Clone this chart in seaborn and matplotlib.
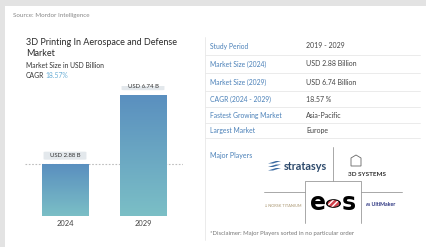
import numpy as np
import matplotlib
matplotlib.use("Agg")
import matplotlib.pyplot as plt
import seaborn as sns
from matplotlib.patches import Rectangle, FancyBboxPatch, Circle, Polygon

# ---------------- data ----------------
years = ["2024", "2029"]
values = [2.88, 6.74]
bar_labels = ["USD 2.88 B", "USD 6.74 B"]
cagr_text = "18.57%"
table_labels = ["Study Period", "Market Size (2024)", "Market Size (2029)",
                "CAGR (2024 - 2029)", "Fastest Growing Market", "Largest Market"]
table_values = ["2019 - 2029", "USD 2.88 Billion", "USD 6.74 Billion",
                "18.57 %", "Asia-Pacific", "Europe"]

sns.set_theme(style="white")
plt.rcParams['font.family'] = ['Lato', 'DejaVu Sans']

W, H = 426, 247
fig = plt.figure(figsize=(W / 100, H / 100), dpi=100, facecolor="#e3e3e3")

def fx(x):
    return x / W

def fy(y):
    return 1 - y / H

# white card
fig.patches.append(Rectangle((fx(5), 0), 1 - fx(5), fy(6), transform=fig.transFigure,
                             facecolor="white", edgecolor="none", zorder=-5))

BLUE = "#4a80b8"
DARK = "#2b2b2b"

def t(x, y, s, **kw):
    kw.setdefault("va", "center")
    kw.setdefault("ha", "left")
    fig.text(fx(x), fy(y), s, **kw)

t(13, 16, "Source: Mordor Intelligence", fontsize=4.5, color="#888888")
t(26, 42, "3D Printing In Aerospace and Defense", fontsize=6.5, color=DARK)
t(26, 53, "Market", fontsize=6.5, color=DARK)
t(26, 65, "Market Size in USD Billion", fontsize=4.9, color="#333333")
t(26, 75, "CAGR", fontsize=4.9, color="#333333")
t(45.5, 75, cagr_text, fontsize=4.9, color="#6aaed6")

# ---------------- bar chart ----------------
ax_l, ax_r, ax_b, ax_t = 25, 183, 216, 86
ax = fig.add_axes([fx(ax_l), fy(ax_b), fx(ax_r) - fx(ax_l), fy(ax_t) - fy(ax_b)])
ax.set_facecolor("none")
sns.barplot(x=years, y=values, ax=ax, width=0.59, color="#6aa6c4", saturation=1)
for s in ax.spines.values():
    s.set_visible(False)
ax.set_yticks([])
ax.set_ylabel("")
ax.tick_params(axis="x", length=0, pad=3.2, labelsize=5.4, labelcolor="#444444")

ax.axhline(values[0], color="#bdbdbd", lw=0.8, ls=(0, (1.5, 1.5)), zorder=0.5)

top_c = np.array([0x5a, 0x8f, 0xbf]) / 255
bot_c = np.array([0x7b, 0xbf, 0xc6]) / 255
grad = np.linspace(0, 1, 256)[:, None, None]
img = top_c * (1 - grad) + bot_c * grad

for p, lab in zip(ax.patches, bar_labels):
    x0, w, h = p.get_x(), p.get_width(), p.get_height()
    p.set_facecolor("none")
    p.set_edgecolor("none")
    im = ax.imshow(img, extent=(x0, x0 + w, 0, h), aspect="auto", origin="upper", zorder=2)
    im.set_clip_path(p)
    gap = 4.5 / 18
    bh = 8 / 18
    box = FancyBboxPatch((x0 + 0.02, h + gap), w - 0.04, bh,
                         boxstyle="round,pad=0,rounding_size=0.03",
                         facecolor="#e3e8ec", edgecolor="none", zorder=3)
    ax.add_patch(box)
    ax.text(x0 + w / 2, h + gap + bh / 2, lab, ha="center", va="center",
            fontsize=4.3, color="#333333", zorder=4)
ax.set_xlim(-0.513, 1.513)
ax.set_ylim(0, 130 / 18)

# ---------------- table ----------------
line_c = "#e8e8e8"
fig.add_artist(plt.Line2D([fx(205), fx(205)], [fy(37), fy(240)], transform=fig.transFigure,
                          color=line_c, lw=0.6))
row_y = [46, 64, 82, 99, 115, 130]
for yy in [55, 73, 91, 107, 123, 138]:
    fig.add_artist(plt.Line2D([fx(205), fx(420)], [fy(yy), fy(yy)], transform=fig.transFigure,
                              color=line_c, lw=0.6))
for yy, lab, val in zip(row_y, table_labels, table_values):
    t(210, yy, lab, fontsize=4.9, color=BLUE)
    t(306, yy, val, fontsize=5.0, color="#444444")

t(210, 155, "Major Players", fontsize=5.0, color=BLUE)

# logo grid
gl = "#9a9a9a"
def fl(xs, ys, c=gl, lw=0.6):
    fig.add_artist(plt.Line2D([fx(v) for v in xs], [fy(v) for v in ys],
                              transform=fig.transFigure, color=c, lw=lw))
fl([333, 333], [147, 181])
fl([264, 305], [192, 192])
fl([361, 402], [192, 192])
fl([305, 305, 361, 361], [223, 181, 181, 223])

# stratasys
for i in range(3):
    y0 = 161 + i * 3.5
    fig.patches.append(Polygon([(fx(268), fy(y0 + 2.5)), (fx(276), fy(y0)), (fx(281), fy(y0)),
                                (fx(273), fy(y0 + 2.5))], closed=True, transform=fig.transFigure,
                               facecolor="#3b6aa0", edgecolor="none"))
t(284, 166, "stratasys", fontsize=7.8, color="#2d4a6c", weight="bold")

# 3D systems
fig.patches.append(Polygon([(fx(351), fy(166)), (fx(351), fy(158)), (fx(356), fy(155)),
                            (fx(361), fy(158)), (fx(361), fy(166))], closed=True,
                           transform=fig.transFigure, facecolor="none", edgecolor="#666666", lw=0.6))
t(367, 174, "3D SYSTEMS", fontsize=4.6, color="#333333", weight="bold", ha="center")

# eos
t(318, 203, "e", fontsize=17, color="black", weight="heavy", ha="center", family=["DejaVu Sans"])
t(348.5, 203, "s", fontsize=17, color="black", weight="heavy", ha="center", family=["DejaVu Sans"])
fig.patches.append(Circle((fx(333.5), fy(203.5)), radius=7.5 / W, transform=fig.transFigure,
                          facecolor="black", edgecolor="none"))
fig.patches.append(Circle((fx(333.5), fy(203.5)), radius=5.8 / W, transform=fig.transFigure,
                          facecolor="#d2404a", edgecolor="white", hatch="//////", lw=0))

# norsk titanium
t(265, 206, "\u2261 NORSK TITANIUM", fontsize=2.8, color="#a8946e")
# ultimaker
t(366, 205, "\u028d UltiMaker", fontsize=3.8, color="#2a3380", weight="bold")

t(210, 233, "*Disclaimer: Major Players sorted in no particular order", fontsize=4.3, color="#777777")

fig.savefig("out.png", dpi=100, facecolor=fig.get_facecolor())
